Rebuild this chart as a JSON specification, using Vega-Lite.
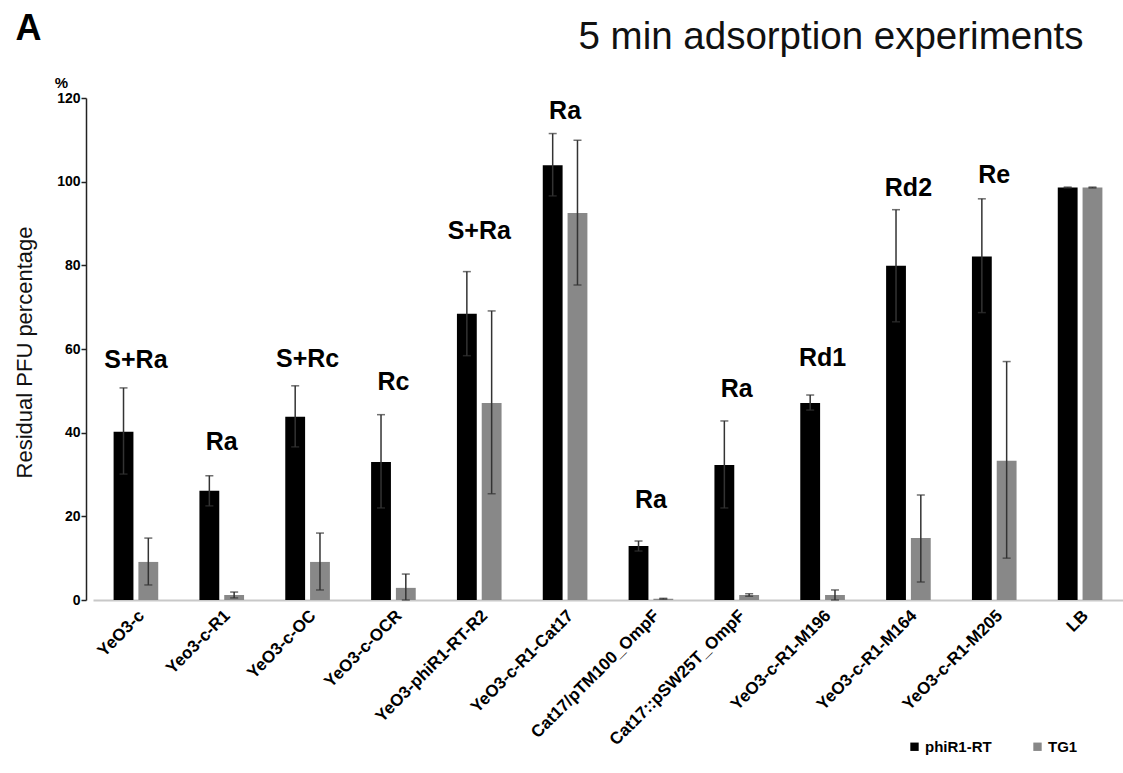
{
  "$schema": "https://vega.github.io/schema/vega-lite/v6.json",
  "width": 1030,
  "height": 502,
  "autosize": {"type": "none"},
  "padding": {"left": 93, "top": 98, "right": 0, "bottom": 173},
  "background": "white",
  "config": {
    "view": {"stroke": null},
    "font": "Liberation Sans"
  },
  "datasets": {
    "bars": [
      {"strain": "YeO3-c", "series": "phiR1-RT", "value": 40.2, "lo": 30.1, "hi": 50.7},
      {"strain": "YeO3-c", "series": "TG1", "value": 9.1, "lo": 3.6, "hi": 14.8},
      {"strain": "Yeo3-c-R1", "series": "phiR1-RT", "value": 26.1, "lo": 22.5, "hi": 29.7},
      {"strain": "Yeo3-c-R1", "series": "TG1", "value": 1.2, "lo": 0.5, "hi": 1.9},
      {"strain": "YeO3-c-OC", "series": "phiR1-RT", "value": 43.8, "lo": 36.6, "hi": 51.2},
      {"strain": "YeO3-c-OC", "series": "TG1", "value": 9.1, "lo": 2.4, "hi": 16.0},
      {"strain": "YeO3-c-OCR", "series": "phiR1-RT", "value": 33.0, "lo": 22.0, "hi": 44.3},
      {"strain": "YeO3-c-OCR", "series": "TG1", "value": 2.9, "lo": 0.0, "hi": 6.2},
      {"strain": "YeO3-phiR1-RT-R2", "series": "phiR1-RT", "value": 68.4, "lo": 58.4, "hi": 78.5},
      {"strain": "YeO3-phiR1-RT-R2", "series": "TG1", "value": 47.1, "lo": 25.4, "hi": 69.1},
      {"strain": "YeO3-c-R1-Cat17", "series": "phiR1-RT", "value": 103.9, "lo": 96.6, "hi": 111.5},
      {"strain": "YeO3-c-R1-Cat17", "series": "TG1", "value": 92.5, "lo": 75.3, "hi": 109.9},
      {"strain": "Cat17/pTM100_OmpF", "series": "phiR1-RT", "value": 12.9, "lo": 11.7, "hi": 14.1},
      {"strain": "Cat17/pTM100_OmpF", "series": "TG1", "value": 0.3, "lo": 0.2, "hi": 0.4},
      {"strain": "Cat17::pSW25T_OmpF", "series": "phiR1-RT", "value": 32.3, "lo": 22.0, "hi": 42.8},
      {"strain": "Cat17::pSW25T_OmpF", "series": "TG1", "value": 1.2, "lo": 0.9, "hi": 1.5},
      {"strain": "YeO3-c-R1-M196", "series": "phiR1-RT", "value": 47.1, "lo": 45.4, "hi": 49.0},
      {"strain": "YeO3-c-R1-M196", "series": "TG1", "value": 1.2, "lo": 0.0, "hi": 2.4},
      {"strain": "YeO3-c-R1-M164", "series": "phiR1-RT", "value": 79.9, "lo": 66.5, "hi": 93.3},
      {"strain": "YeO3-c-R1-M164", "series": "TG1", "value": 14.8, "lo": 4.3, "hi": 25.1},
      {"strain": "YeO3-c-R1-M205", "series": "phiR1-RT", "value": 82.1, "lo": 68.7, "hi": 95.9},
      {"strain": "YeO3-c-R1-M205", "series": "TG1", "value": 33.3, "lo": 10.0, "hi": 57.0},
      {"strain": "LB", "series": "phiR1-RT", "value": 98.6, "lo": 98.5, "hi": 98.7},
      {"strain": "LB", "series": "TG1", "value": 98.6, "lo": 98.5, "hi": 98.7}
    ],
    "labels": [
      {"strain": "YeO3-c", "label": "S+Ra", "ypos": 57.4},
      {"strain": "Yeo3-c-R1", "label": "Ra", "ypos": 37.8},
      {"strain": "YeO3-c-OC", "label": "S+Rc", "ypos": 57.7},
      {"strain": "YeO3-c-OCR", "label": "Rc", "ypos": 52.2},
      {"strain": "YeO3-phiR1-RT-R2", "label": "S+Ra", "ypos": 88.3},
      {"strain": "YeO3-c-R1-Cat17", "label": "Ra", "ypos": 117.0},
      {"strain": "Cat17/pTM100_OmpF", "label": "Ra", "ypos": 23.9},
      {"strain": "Cat17::pSW25T_OmpF", "label": "Ra", "ypos": 50.5},
      {"strain": "YeO3-c-R1-M196", "label": "Rd1", "ypos": 57.9},
      {"strain": "YeO3-c-R1-M164", "label": "Rd2", "ypos": 98.6},
      {"strain": "YeO3-c-R1-M205", "label": "Re", "ypos": 101.7}
    ]
  },
  "resolve": {"axis": {"x": "independent", "y": "independent"}},
  "layer": [
    {
      "data": {"name": "bars"},
      "mark": {"type": "bar"},
      "encoding": {
        "x": {
          "field": "strain", "type": "nominal",
          "scale": {
            "domain": ["YeO3-c", "Yeo3-c-R1", "YeO3-c-OC", "YeO3-c-OCR", "YeO3-phiR1-RT-R2", "YeO3-c-R1-Cat17", "Cat17/pTM100_OmpF", "Cat17::pSW25T_OmpF", "YeO3-c-R1-M196", "YeO3-c-R1-M164", "YeO3-c-R1-M205", "LB"],
            "paddingInner": 0.48, "paddingOuter": 0.24
          },
          "axis": {
            "title": null, "orient": "bottom",
            "ticks": false, "domainColor": "#c8c8c8", "domainWidth": 2,
            "labelAngle": -45, "labelFont": "Liberation Sans", "labelFontWeight": "bold",
            "labelFontSize": 17, "labelColor": "#000", "labelPadding": 7, "labelLimit": 300
          }
        },
        "xOffset": {"field": "series", "type": "nominal", "sort": ["phiR1-RT", "TG1"], "scale": {"paddingInner": 0.2, "paddingOuter": 0}},
        "y": {
          "field": "value", "type": "quantitative",
          "scale": {"domain": [0, 120], "nice": false},
          "axis": {
            "orient": "left", "offset": 7,
            "values": [0, 20, 40, 60, 80, 100, 120],
            "grid": false, "domainColor": "#222", "domainWidth": 1.5,
            "tickColor": "#222", "tickSize": 5, "tickWidth": 1.5,
            "labelFont": "Liberation Sans", "labelFontWeight": "bold", "labelFontSize": 14, "labelColor": "#000", "labelPadding": 1,
            "title": "Residual PFU percentage", "titleFont": "Liberation Sans", "titleFontSize": 22, "titleFontWeight": "normal", "titleColor": "#111",
            "titleAngle": -90, "titleX": -62, "titleY": 254, "titleAlign": "center", "titleBaseline": "middle"
          }
        },
        "color": {
          "field": "series", "type": "nominal",
          "scale": {"domain": ["phiR1-RT", "TG1"], "range": ["#000000", "#888888"]},
          "legend": {
            "title": null, "orient": "none", "direction": "horizontal",
            "legendX": 814, "legendY": 641,
            "symbolType": "square", "symbolSize": 70, "symbolStrokeWidth": 0, "symbolOffset": 0,
            "labelFont": "Liberation Sans", "labelFontWeight": "bold", "labelFontSize": 15, "labelColor": "#000",
            "labelOffset": 3, "columnPadding": 38
          }
        }
      }
    },
    {
      "data": {"name": "bars"},
      "mark": {"type": "rule", "color": "#333333", "strokeWidth": 1.5},
      "encoding": {
        "x": {"field": "strain", "type": "nominal", "axis": null},
        "xOffset": {"field": "series", "type": "nominal", "sort": ["phiR1-RT", "TG1"]},
        "y": {
          "field": "lo", "type": "quantitative",
          "axis": {
            "orient": "left", "domain": false, "ticks": false, "labels": false, "grid": false,
            "title": "A", "titleFont": "Liberation Sans", "titleFontSize": 36, "titleFontWeight": "bold", "titleColor": "#000",
            "titleAngle": 0, "titleX": -65, "titleY": -70, "titleAlign": "center", "titleBaseline": "middle"
          }
        },
        "y2": {"field": "hi"}
      }
    },
    {
      "data": {"name": "bars"},
      "mark": {"type": "tick", "color": "#333333", "thickness": 1.5, "size": 8, "orient": "horizontal"},
      "encoding": {
        "x": {"field": "strain", "type": "nominal", "axis": null},
        "xOffset": {"field": "series", "type": "nominal", "sort": ["phiR1-RT", "TG1"]},
        "y": {"field": "hi", "type": "quantitative", "axis": null}
      }
    },
    {
      "data": {"name": "bars"},
      "mark": {"type": "tick", "color": "#333333", "thickness": 1.5, "size": 8, "orient": "horizontal"},
      "encoding": {
        "x": {"field": "strain", "type": "nominal", "axis": null},
        "xOffset": {"field": "series", "type": "nominal", "sort": ["phiR1-RT", "TG1"]},
        "y": {"field": "lo", "type": "quantitative", "axis": null}
      }
    },
    {
      "data": {"name": "labels"},
      "mark": {"type": "text", "font": "Liberation Sans", "fontWeight": "bold", "fontSize": 25, "color": "#000", "align": "center", "baseline": "middle"},
      "encoding": {
        "x": {
          "field": "strain", "type": "nominal",
          "axis": {
            "orient": "top", "domain": false, "ticks": false, "labels": false, "grid": false,
            "title": "5 min adsorption experiments", "titleFont": "Liberation Sans", "titleFontSize": 38.5, "titleFontWeight": "normal", "titleColor": "#111",
            "titleX": 990, "titleY": -50, "titleAlign": "right", "titleBaseline": "alphabetic"
          }
        },
        "y": {
          "field": "ypos", "type": "quantitative",
          "axis": {
            "orient": "left", "domain": false, "ticks": false, "labels": false, "grid": false,
            "title": "%", "titleFont": "Liberation Sans", "titleFontSize": 15, "titleFontWeight": "bold", "titleColor": "#000",
            "titleAngle": 0, "titleX": -32, "titleY": -16, "titleAlign": "center", "titleBaseline": "middle"
          }
        },
        "text": {"field": "label"}
      }
    }
  ]
}
